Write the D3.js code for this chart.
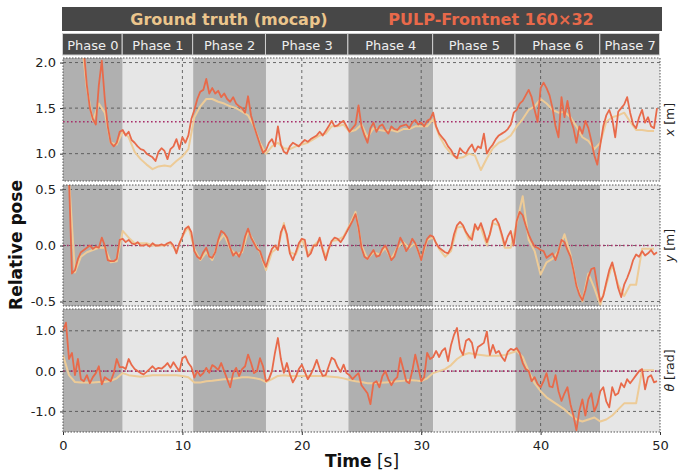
<!DOCTYPE html>
<html><head><meta charset="utf-8">
<script src="https://cdn.jsdelivr.net/npm/d3@7"></script>
<style>body{margin:0;background:#fff;} svg{display:block;font-family:"DejaVu Sans",sans-serif;}</style>
</head><body><svg id="c" width="678" height="473"></svg>
<script>
// ---------- data ----------
const seriesNames = ["Ground truth (mocap)", "PULP-Frontnet 160×32"];
const phaseNames = ["Phase 0","Phase 1","Phase 2","Phase 3","Phase 4","Phase 5","Phase 6","Phase 7"];
const phaseBounds = [0, 5, 10.9, 17, 23.9, 31, 37.9, 45, 50];
const xTicks = [0, 10, 20, 30, 40, 50];
const yTicksX = [1.0, 1.5, 2.0];
const yTicksY = [-0.5, 0.0, 0.5];
const yTicksT = [-1.0, 0.0, 1.0];
const refLines = [1.35, 0, 0];
const predStep = 0.25, gtStep = 0.5;

const predX = [
2.6,2.6,2.55,2.5, 2.45,2.4,2.3,2.12, 1.75,1.5,1.38,1.32, 1.75,2.02,1.6,1.3,
1.12,1.08,1.12,1.24, 1.26,1.2,1.24,1.15, 1.12,1.08,1.05,1.04, 1.0,0.98,0.96,0.92,
1.02,1.06,1.03,0.94, 1.05,1.08,1.16,1.05, 1.18,1.12,1.2,1.38, 1.48,1.6,1.68,1.7,
1.82,1.66,1.72,1.66, 1.69,1.62,1.66,1.6, 1.57,1.62,1.55,1.52, 1.5,1.45,1.63,1.42,
1.3,1.2,1.1,1.01, 1.04,1.12,1.16,1.08, 1.3,1.1,1.02,1.0, 1.08,1.12,1.1,1.08,
1.12,1.15,1.13,1.16, 1.18,1.2,1.24,1.2, 1.25,1.3,1.36,1.3, 1.31,1.34,1.36,1.3,
1.24,1.28,1.32,1.53, 1.3,1.2,1.12,1.28, 1.34,1.24,1.3,1.32, 1.26,1.22,1.3,1.27,
1.26,1.3,1.31,1.32, 1.28,1.34,1.37,1.32, 1.34,1.3,1.36,1.38, 1.45,1.3,1.22,1.18,
1.14,1.08,1.04,0.98, 0.95,1.06,1.02,1.0, 1.06,1.1,1.02,1.08, 1.06,1.22,1.0,1.06,
1.1,1.16,1.2,1.22, 1.24,1.27,1.32,1.45, 1.48,1.55,1.58,1.64, 1.7,1.62,1.48,1.35,
1.72,1.78,1.72,1.64, 1.5,1.3,1.18,1.62, 1.4,1.58,1.38,1.28, 1.12,1.3,1.22,1.36,
1.28,1.14,0.98,0.88, 1.1,1.3,1.42,1.48, 1.38,1.18,1.46,1.5, 1.54,1.62,1.45,1.32,
1.28,1.4,1.48,1.34, 1.4,1.3,1.28,1.5];
const gtX = [
2.6,2.55, 2.45,2.3, 1.72,1.36, 1.55,1.45, 1.12,1.1, 1.24,1.18, 1.02,0.94, 0.88,0.83,
0.86,0.87, 0.86,0.92, 0.97,1.05, 1.4,1.52, 1.6,1.6, 1.57,1.55, 1.52,1.5, 1.46,1.42,
1.3,1.12, 1.0,1.08, 1.12,1.06, 1.05,1.08, 1.1,1.12, 1.16,1.2, 1.22,1.3, 1.3,1.32,
1.24,1.26, 1.32,1.18, 1.28,1.26, 1.25,1.26, 1.24,1.27, 1.27,1.3, 1.3,1.3, 1.38,1.2,
1.08,1.0, 0.95,0.96, 1.0,0.98, 0.82,0.95, 1.06,1.12, 1.15,1.2, 1.3,1.38, 1.48,1.52,
1.6,1.55, 1.48,1.45, 1.46,1.4, 1.3,1.18, 1.14,1.05, 1.12,1.35, 1.4,1.42, 1.45,1.35,
1.26,1.26, 1.25,1.25];

const predY = [
0.6,0.6,0.6,-0.25, -0.22,-0.12,-0.06,-0.04, -0.02,0.0,-0.03,-0.01, -0.02,0.07,0.0,-0.13,
-0.14,-0.14,-0.12,0.05, 0.06,0.03,0.05,0.02, 0.01,0.03,0.0,0.0, 0.01,-0.01,0.02,0.0,
0.0,0.01,0.0,0.02, 0.03,0.0,-0.07,0.02, 0.08,0.15,0.17,0.12, -0.05,-0.1,-0.12,-0.06,
-0.02,-0.1,-0.11,-0.06, 0.05,0.13,0.11,0.07, -0.02,-0.09,-0.06,-0.1, -0.04,0.08,0.15,0.07,
0.02,-0.03,-0.05,-0.13, -0.19,-0.1,-0.03,0.0, -0.04,0.12,0.18,0.1, -0.07,-0.13,-0.06,0.02,
0.06,0.05,-0.1,-0.07, 0.0,0.0,0.07,-0.04, -0.13,-0.03,0.04,0.07, 0.06,0.03,0.07,0.12,
0.17,0.22,0.28,0.16, -0.02,-0.1,-0.12,-0.08, -0.04,-0.1,-0.09,-0.03, 0.0,-0.06,-0.13,-0.1,
-0.02,0.07,0.02,-0.05, -0.01,0.06,0.02,-0.05, -0.13,-0.02,0.06,0.09, 0.08,0.02,-0.02,-0.04,
-0.06,-0.07,-0.02,0.1, 0.18,0.21,0.18,0.12, 0.08,0.05,0.19,0.14, 0.2,0.12,0.03,0.1,
0.22,0.24,0.19,0.1, 0.0,0.08,0.13,0.0, 0.22,0.3,0.27,0.18, 0.1,0.04,-0.01,-0.02,
-0.04,-0.05,-0.11,-0.09, -0.07,-0.13,-0.05,0.05, 0.03,-0.04,-0.1,-0.22, -0.36,-0.44,-0.49,-0.4,
-0.28,-0.21,-0.2,-0.36, -0.5,-0.45,-0.33,-0.22, -0.15,-0.26,-0.38,-0.46, -0.35,-0.29,-0.22,-0.13,
-0.08,-0.1,-0.05,-0.09, -0.07,-0.04,-0.08,-0.06];
const gtY = [
0.6,0.6, -0.24,-0.1, -0.06,-0.04, -0.02,-0.02, -0.15,-0.14, 0.13,0.07, 0.02,0.02, 0.02,0.0,
0.0,0.0, 0.02,-0.05, 0.08,0.17, -0.03,-0.13, -0.06,-0.13, 0.03,0.1, -0.03,-0.08, -0.06,0.13,
0.03,-0.06, -0.22,-0.06, -0.02,0.2, -0.06,-0.08, 0.06,-0.08, 0.0,0.05, -0.1,0.04, 0.05,0.08,
0.18,0.3, 0.0,-0.12, -0.06,-0.08, -0.02,-0.12, -0.02,0.03, -0.02,0.02, -0.12,0.05, 0.07,-0.03,
-0.1,-0.05, 0.16,0.17, 0.05,0.15, 0.16,0.0, 0.2,0.18, -0.02,-0.02, 0.2,0.44, 0.05,-0.05,
-0.26,-0.15, -0.12,-0.05, 0.1,-0.08, -0.35,-0.5, -0.25,-0.38, -0.53,-0.35, -0.17,-0.35, -0.45,-0.35,
-0.35,-0.03, -0.03,-0.03];

const predT = [
1.0,1.2,0.3,0.45, -0.1,0.3,-0.2,-0.25, -0.1,-0.3,-0.15,-0.05, 0.12,-0.33,-0.15,-0.2,
-0.25,-0.05,0.3,0.1, 0.1,0.05,0.3,0.15, 0.05,0.0,-0.05,-0.08, -0.02,0.05,0.12,0.04,
0.08,0.06,0.12,0.2, 0.08,0.22,0.1,0.0, 0.32,0.37,0.2,0.1, -0.16,0.0,-0.12,-0.05,
0.08,-0.04,0.15,0.1, 0.03,0.2,0.0,-0.2, -0.4,-0.05,0.08,-0.12, 0.05,0.12,0.41,0.2,
-0.05,0.0,0.32,0.12, -0.25,-0.2,0.0,0.45, 0.82,0.3,-0.04,0.2, -0.08,-0.28,-0.15,0.05,
0.16,-0.02,-0.2,-0.08, 0.08,0.28,0.05,-0.12, -0.1,0.12,0.33,0.28, 0.1,-0.02,0.16,-0.05,
-0.1,-0.2,-0.12,-0.05, -0.35,-0.45,-0.55,-0.82, -0.3,-0.25,-0.4,-0.12, 0.0,-0.2,-0.35,-0.22,
-0.15,0.33,0.05,-0.25, -0.3,0.0,0.41,0.1, -0.25,-0.15,0.45,0.3, 0.35,0.5,0.35,0.5,
0.57,0.25,0.65,0.9, 1.07,0.55,0.4,0.75, 0.8,0.7,0.33,0.6, 0.65,0.7,0.98,0.4,
0.65,0.45,0.5,0.35, 0.25,0.48,0.55,0.52, 0.57,0.45,0.2,0.05, 0.0,-0.25,-0.15,-0.32,
-0.4,-0.25,-0.05,-0.38, -0.4,-0.1,-0.5,-0.74, -0.55,-0.4,-0.82,-1.1, -1.47,-0.98,-0.7,-1.1,
-0.7,-0.55,-1.0,-0.82, -0.5,-0.4,-0.75,-0.9, -0.4,-0.6,-0.55,-0.3, -0.4,-0.2,-0.3,-0.2,
-0.1,0.0,0.05,-0.45, -0.15,-0.1,-0.28,-0.25];
const gtT = [
0.4,-0.1, -0.27,-0.28, -0.28,-0.28, -0.27,-0.27, -0.24,-0.18, -0.05,-0.1, -0.12,-0.14, -0.12,-0.1,
-0.1,-0.1, -0.1,-0.1, -0.12,-0.15, -0.28,-0.28, -0.25,-0.24, -0.22,-0.2, -0.2,-0.18, -0.15,-0.15,
-0.17,-0.2, -0.27,-0.2, -0.12,-0.1, -0.12,-0.12, -0.12,-0.12, -0.12,-0.12, -0.13,-0.14, -0.15,-0.18,
-0.22,-0.25, -0.27,-0.3, -0.3,-0.29, -0.28,-0.27, -0.25,-0.24, -0.22,-0.23, -0.25,-0.18, -0.05,0.0,
0.05,0.15, 0.3,0.4, 0.45,0.42, 0.4,0.38, 0.38,0.38, 0.4,0.45, 0.5,0.35, 0.0,-0.3,
-0.5,-0.65, -0.75,-0.85, -0.95,-1.08, -1.2,-1.25, -1.2,-1.15, -1.25,-1.2, -1.1,-0.95, -0.8,-0.8,
-0.8,0.02, 0.02,0.02];

// ---------- layout ----------
const L = 63, R = 660;
const x = d3.scaleLinear().domain([0, 50]).range([L, R]);
const panels = [
  {top: 58,  bot: 181, dom: [0.70, 2.05], ticks: yTicksX, gt: gtX, pred: predX, sym: "x", unit: " [m]"},
  {top: 185, bot: 306, dom: [-0.54, 0.54], ticks: yTicksY, gt: gtY, pred: predY, sym: "y", unit: " [m]"},
  {top: 309, bot: 432, dom: [-1.51, 1.54], ticks: yTicksT, gt: gtT, pred: predT, sym: "θ", unit: " [rad]"}
];
const colGT = "#EDCB97", colPred = "#E86A4A";
const darkBg = "#b0b0b0", lightBg = "#e6e6e6";

const svg = d3.select("#c");
svg.append("rect").attr("width", 678).attr("height", 473).attr("fill", "#fff");

// title bar
svg.append("rect").attr("x", 62).attr("y", 7).attr("width", 600).attr("height", 24).attr("fill", "#474747");
svg.append("text").attr("x", 229).attr("y", 25).attr("text-anchor", "middle")
  .attr("font-size", 16).attr("font-weight", "bold").attr("fill", "#EBC58C").text(seriesNames[0]);
svg.append("text").attr("x", 491).attr("y", 25).attr("text-anchor", "middle")
  .attr("font-size", 16).attr("font-weight", "bold").attr("fill", "#E8694A").text(seriesNames[1]);

// phase bar
const phases = phaseNames.map((n, i) => ({name: n, a: phaseBounds[i], b: phaseBounds[i + 1], i}));
const pb = svg.append("g");
pb.selectAll("rect").data(phases).join("rect")
  .attr("x", d => x(d.a) - 0.5).attr("y", 33.5)
  .attr("width", d => x(d.b) - x(d.a)).attr("height", 21.5)
  .attr("fill", "#4a4a4a").attr("stroke", "#d0d0d0").attr("stroke-width", 1);
pb.selectAll("text").data(phases).join("text")
  .attr("x", d => (x(d.a) + x(d.b)) / 2).attr("y", 49.5).attr("text-anchor", "middle")
  .attr("font-size", 13).attr("fill", "#eeeeee").text(d => d.name);

const fmt = v => d3.format(".1f")(v).replace("−", "-");

panels.forEach((p, k) => {
  const y = d3.scaleLinear().domain(p.dom).range([p.bot, p.top]);
  const g = svg.append("g");
  const cid = "clip" + k;
  svg.append("clipPath").attr("id", cid).append("rect")
    .attr("x", L).attr("y", p.top).attr("width", R - L).attr("height", p.bot - p.top);

  // phase shading
  g.selectAll("rect.ph").data(phases).join("rect").attr("class", "ph")
    .attr("x", d => x(d.a)).attr("y", p.top)
    .attr("width", d => x(d.b) - x(d.a)).attr("height", p.bot - p.top)
    .attr("fill", d => d.i % 2 === 0 ? darkBg : lightBg);

  // grid
  g.selectAll("line.hg").data(p.ticks).join("line").attr("class", "hg")
    .attr("x1", L).attr("x2", R).attr("y1", d => y(d)).attr("y2", d => y(d))
    .attr("stroke", "#4a4a4a").attr("stroke-width", 0.8).attr("stroke-dasharray", "3,3");
  g.selectAll("line.vg").data(xTicks.slice(1, -1)).join("line").attr("class", "vg")
    .attr("x1", d => x(d)).attr("x2", d => x(d)).attr("y1", p.top).attr("y2", p.bot)
    .attr("stroke", "#4a4a4a").attr("stroke-width", 0.8).attr("stroke-dasharray", "3,3");

  // reference line
  g.append("line").attr("x1", L).attr("x2", R).attr("y1", y(refLines[k])).attr("y2", y(refLines[k]))
    .attr("stroke", "#a8306a").attr("stroke-width", 1.6).attr("stroke-dasharray", "1.6,2.4");

  // series
  const cg = g.append("g").attr("clip-path", `url(#${cid})`);
  const lineGT = d3.line().x((d, i) => x(i * gtStep)).y(d => y(d));
  const linePred = d3.line().x((d, i) => x(i * predStep)).y(d => y(d));
  cg.append("path").attr("d", lineGT(p.gt)).attr("fill", "none").attr("stroke", colGT)
    .attr("stroke-width", 2).attr("stroke-linejoin", "round");
  cg.append("path").attr("d", linePred(p.pred)).attr("fill", "none").attr("stroke", colPred)
    .attr("stroke-width", 1.8).attr("stroke-linejoin", "round");

  // frame
  g.append("rect").attr("x", L).attr("y", p.top).attr("width", R - L).attr("height", p.bot - p.top)
    .attr("fill", "none").attr("stroke", "#555").attr("stroke-width", 1).attr("stroke-dasharray", "1.5,1.5");

  // y axis
  const ax = d3.axisLeft(y).tickValues(p.ticks).tickFormat(fmt).tickSize(3).tickPadding(4);
  const ga = svg.append("g").attr("transform", `translate(${L},0)`).call(ax);
  ga.select(".domain").remove();
  ga.selectAll("text").attr("font-size", 13).attr("fill", "#222").attr("font-family", "DejaVu Sans");
  ga.selectAll("line").attr("stroke", "#333");

  // right label
  const t = svg.append("text").attr("transform", `translate(669,${(p.top + p.bot) / 2}) rotate(-90)`)
    .attr("text-anchor", "middle").attr("dominant-baseline", "central").attr("font-size", 12.5).attr("fill", "#222");
  t.append("tspan").attr("font-style", "italic").text(p.sym);
  t.append("tspan").text(p.unit);
});

// x axis
const xa = d3.axisBottom(x).tickValues(xTicks).tickFormat(d3.format("d")).tickSize(3).tickPadding(6);
const gx = svg.append("g").attr("transform", `translate(0,432)`).call(xa);
gx.select(".domain").remove();
gx.selectAll("text").attr("font-size", 13).attr("fill", "#222").attr("font-family", "DejaVu Sans");
gx.selectAll("line").attr("stroke", "#333");

// axis titles
const xt = svg.append("text").attr("x", 362).attr("y", 467).attr("text-anchor", "middle").attr("font-size", 17).attr("fill", "#111");
xt.append("tspan").attr("font-weight", "bold").text("Time");
xt.append("tspan").text(" [s]");
svg.append("text").attr("transform", "translate(22,245) rotate(-90)").attr("text-anchor", "middle")
  .attr("font-size", 17).attr("font-weight", "bold").attr("fill", "#111").text("Relative pose");
</script></body></html>
